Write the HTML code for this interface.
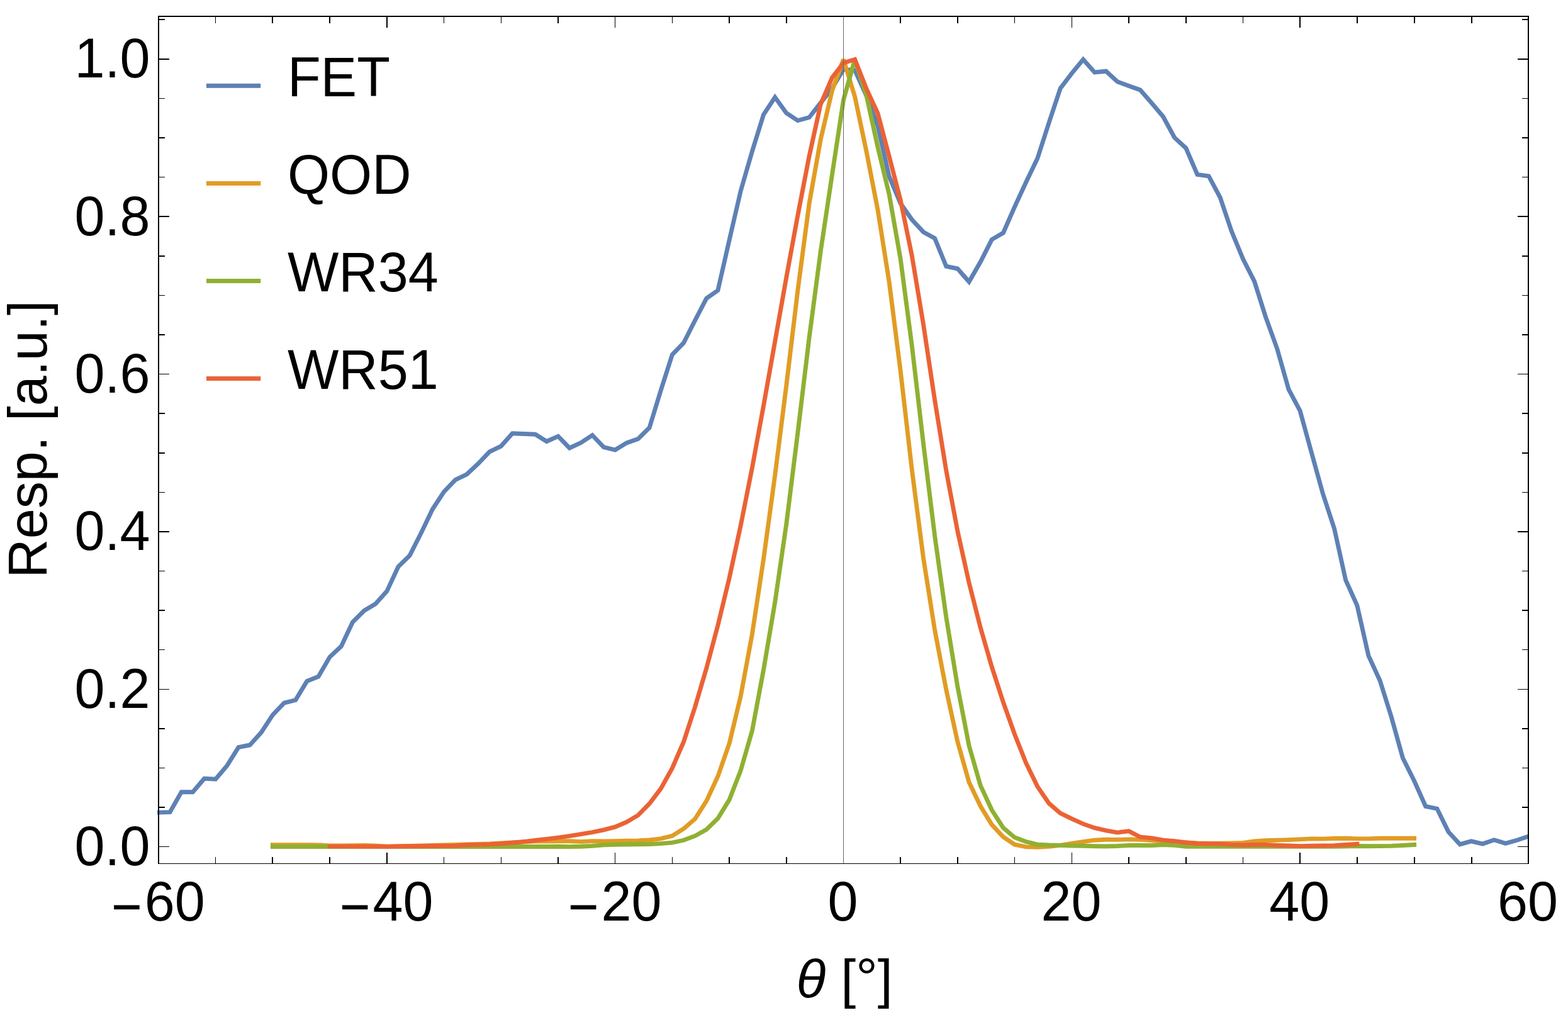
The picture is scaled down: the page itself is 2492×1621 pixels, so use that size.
<!DOCTYPE html>
<html lang="en"><head><meta charset="utf-8"><title>Resp. [a.u.] vs θ [°]</title>
<style>
html,body{margin:0;padding:0;background:#fff;}
body{width:2492px;height:1621px;overflow:hidden;}
svg{display:block;position:absolute;left:0;top:0;}
text{font-family:"Liberation Sans",Arial,Helvetica,sans-serif;font-size:86.3px;fill:#000;}
.c{fill:none;stroke-width:6.9;stroke-linejoin:miter;stroke-linecap:square;stroke-miterlimit:2.6;}
.k{fill:#000;shape-rendering:crispEdges;}
</style></head><body>
<svg width="2492" height="1621" viewBox="0 0 2492 1621">
<rect x="0" y="0" width="2492" height="1621" fill="#fff"/>
<defs><clipPath id="cp"><rect x="250" y="25" width="2180" height="1348"/></clipPath></defs>
<g clip-path="url(#cp)">
<polyline class="c" stroke="#5E81B5" points="252.0,1291.2 270.1,1290.7 288.3,1258.6 306.4,1258.8 324.6,1237.4 342.7,1238.3 360.9,1216.6 379.0,1187.6 397.1,1184.0 415.3,1163.9 433.4,1136.1 451.6,1117.2 469.7,1112.6 487.8,1082.6 506.0,1075.3 524.1,1044.1 542.3,1027.1 560.4,988.7 578.6,970.5 596.7,959.7 614.8,939.6 633.0,900.5 651.1,882.9 669.3,847.0 687.4,809.3 705.5,781.6 723.7,762.6 741.8,753.8 760.0,736.8 778.1,717.9 796.2,709.1 814.4,688.7 832.5,689.5 850.7,690.2 868.8,701.5 887.0,693.4 905.1,712.0 923.2,703.6 941.4,691.6 959.5,710.6 977.7,715.0 995.8,703.9 1014.0,697.6 1032.1,679.7 1050.2,620.5 1068.4,563.5 1086.5,545.0 1104.7,509.0 1122.8,474.2 1140.9,461.5 1159.1,381.5 1177.2,303.3 1195.4,240.5 1213.5,182.2 1231.7,154.6 1249.8,179.7 1267.9,191.6 1286.1,186.6 1304.2,163.5 1322.4,140.6 1340.5,110.3 1358.6,111.6 1376.8,151.9 1394.9,200.0 1413.1,280.4 1431.2,323.3 1449.3,349.1 1467.5,368.7 1485.6,378.7 1503.8,423.2 1521.9,427.0 1540.1,447.8 1558.2,416.3 1576.3,380.6 1594.5,370.0 1612.6,328.7 1630.8,289.2 1648.9,251.5 1667.0,195.3 1685.2,140.5 1703.3,116.6 1721.5,94.5 1739.6,115.0 1757.8,113.2 1775.9,129.8 1794.0,136.6 1812.2,143.0 1830.3,163.8 1848.5,185.3 1866.6,218.7 1884.8,235.4 1902.9,277.4 1921.0,279.9 1939.2,313.9 1957.3,367.5 1975.5,411.5 1993.6,447.1 2011.7,504.3 2029.9,554.7 2048.0,618.6 2066.2,653.0 2084.3,719.1 2102.4,784.6 2120.6,840.1 2138.7,922.0 2156.9,962.4 2175.0,1042.2 2193.2,1081.7 2211.3,1139.5 2229.4,1204.5 2247.6,1241.0 2265.7,1281.4 2283.9,1285.2 2302.0,1322.0 2320.2,1341.9 2338.3,1336.9 2356.4,1341.1 2374.6,1334.8 2392.7,1340.3 2410.9,1335.2 2429.0,1329.3"/>
<polyline class="c" stroke="#E19C24" points="433.4,1342.7 451.6,1342.7 469.7,1342.7 487.8,1342.7 506.0,1342.9 524.1,1343.9 542.3,1343.9 560.4,1343.7 578.6,1343.4 596.7,1343.9 614.8,1345.2 633.0,1345.0 651.1,1344.5 669.3,1344.0 687.4,1343.5 705.5,1343.0 723.7,1342.5 741.8,1342.0 760.0,1341.5 778.1,1341.0 796.2,1340.0 814.4,1339.0 832.5,1338.0 850.7,1337.1 868.8,1337.0 887.0,1336.8 905.1,1336.8 923.2,1337.6 941.4,1336.6 959.5,1337.0 977.7,1336.6 995.8,1336.3 1014.0,1335.9 1032.1,1335.0 1050.2,1332.8 1068.4,1328.4 1086.5,1317.0 1104.7,1301.3 1122.8,1272.9 1140.9,1233.8 1159.1,1181.5 1177.2,1106.1 1195.4,1007.8 1213.5,888.5 1231.7,755.4 1249.8,612.3 1267.9,461.2 1286.1,323.3 1304.2,221.8 1322.4,144.4 1340.5,94.3 1358.6,153.5 1376.8,239.8 1394.9,332.8 1413.1,447.7 1431.2,590.0 1449.3,746.6 1467.5,886.7 1485.6,1001.2 1503.8,1096.3 1521.9,1178.9 1540.1,1243.2 1558.2,1281.0 1576.3,1310.6 1594.5,1330.2 1612.6,1342.2 1630.8,1345.9 1648.9,1346.3 1667.0,1345.3 1685.2,1343.4 1703.3,1340.3 1721.5,1337.7 1739.6,1335.2 1757.8,1334.3 1775.9,1334.4 1794.0,1333.9 1812.2,1334.2 1830.3,1335.5 1848.5,1337.0 1866.6,1338.0 1884.8,1339.0 1902.9,1340.0 1921.0,1340.5 1939.2,1340.3 1957.3,1340.0 1975.5,1339.5 1993.6,1337.0 2011.7,1335.7 2029.9,1335.2 2048.0,1334.6 2066.2,1333.9 2084.3,1332.9 2102.4,1333.1 2120.6,1332.5 2138.7,1332.3 2156.9,1332.9 2175.0,1332.9 2193.2,1332.3 2211.3,1332.3 2229.4,1332.3 2247.6,1332.3"/>
<polyline class="c" stroke="#8FB032" points="433.4,1345.5 451.6,1345.5 469.7,1345.5 487.8,1345.5 506.0,1345.5 524.1,1345.5 542.3,1345.5 560.4,1345.5 578.6,1345.5 596.7,1345.5 614.8,1345.5 633.0,1345.5 651.1,1345.5 669.3,1345.5 687.4,1345.5 705.5,1345.5 723.7,1345.5 741.8,1345.5 760.0,1345.5 778.1,1345.5 796.2,1345.5 814.4,1345.5 832.5,1345.5 850.7,1345.5 868.8,1345.5 887.0,1345.3 905.1,1345.6 923.2,1345.3 941.4,1344.4 959.5,1342.9 977.7,1342.2 995.8,1342.0 1014.0,1341.8 1032.1,1341.6 1050.2,1340.6 1068.4,1339.1 1086.5,1335.3 1104.7,1328.4 1122.8,1318.3 1140.9,1300.6 1159.1,1271.0 1177.2,1224.4 1195.4,1161.3 1213.5,1064.5 1231.7,956.9 1249.8,832.4 1267.9,687.5 1286.1,536.4 1304.2,399.6 1322.4,278.1 1340.5,159.0 1358.6,94.5 1376.8,150.7 1394.9,233.3 1413.1,308.7 1431.2,411.7 1449.3,549.4 1467.5,704.8 1485.6,851.7 1503.8,981.1 1521.9,1091.3 1540.1,1185.2 1558.2,1248.2 1576.3,1287.3 1594.5,1315.7 1612.6,1330.8 1630.8,1337.7 1648.9,1342.2 1667.0,1343.0 1685.2,1343.4 1703.3,1344.0 1721.5,1344.3 1739.6,1344.7 1757.8,1345.0 1775.9,1344.5 1794.0,1343.5 1812.2,1343.5 1830.3,1343.5 1848.5,1342.5 1866.6,1343.4 1884.8,1345.3 1902.9,1345.3 1921.0,1345.3 1939.2,1345.3 1957.3,1345.3 1975.5,1345.3 1993.6,1345.3 2011.7,1345.3 2029.9,1345.3 2048.0,1345.3 2066.2,1345.3 2084.3,1345.3 2102.4,1345.3 2120.6,1345.3 2138.7,1345.1 2156.9,1344.5 2175.0,1344.7 2193.2,1344.6 2211.3,1344.4 2229.4,1343.5 2247.6,1342.4"/>
<polyline class="c" stroke="#EB6235" points="524.1,1345.1 542.3,1345.1 560.4,1345.2 578.6,1345.3 596.7,1345.4 614.8,1345.5 633.0,1345.0 651.1,1344.7 669.3,1344.7 687.4,1344.5 705.5,1344.4 723.7,1344.1 741.8,1342.7 760.0,1342.4 778.1,1341.9 796.2,1340.8 814.4,1339.3 832.5,1337.6 850.7,1335.5 868.8,1333.3 887.0,1331.1 905.1,1328.6 923.2,1325.7 941.4,1322.6 959.5,1318.8 977.7,1314.2 995.8,1306.4 1014.0,1295.6 1032.1,1277.3 1050.2,1253.4 1068.4,1220.6 1086.5,1179.0 1104.7,1123.3 1122.8,1061.7 1140.9,993.8 1159.1,918.5 1177.2,835.1 1195.4,743.3 1213.5,644.8 1231.7,542.6 1249.8,440.7 1267.9,342.1 1286.1,248.0 1304.2,165.8 1322.4,123.5 1340.5,99.9 1358.6,94.4 1376.8,140.6 1394.9,179.7 1413.1,248.5 1431.2,318.3 1449.3,406.3 1467.5,515.5 1485.6,635.7 1503.8,748.0 1521.9,844.3 1540.1,926.3 1558.2,997.3 1576.3,1059.9 1594.5,1116.2 1612.6,1167.0 1630.8,1212.9 1648.9,1250.1 1667.0,1276.6 1685.2,1292.4 1703.3,1301.2 1721.5,1309.4 1739.6,1315.7 1757.8,1319.9 1775.9,1323.1 1794.0,1320.9 1812.2,1330.2 1830.3,1331.9 1848.5,1335.2 1866.6,1336.7 1884.8,1339.0 1902.9,1340.5 1921.0,1340.8 1939.2,1341.1 1957.3,1342.4 1975.5,1343.0 1993.6,1342.4 2011.7,1342.4 2029.9,1343.4 2048.0,1343.9 2066.2,1344.6 2084.3,1344.3 2102.4,1344.0 2120.6,1343.6 2138.7,1342.5 2156.9,1341.4"/>
</g>
<rect x="1340" y="27" width="1" height="1345" fill="#666" shape-rendering="crispEdges"/>
<path class="k" d="M342,1362h1v11h-1zM342,26h1v11h-1zM432,1362h2v11h-2zM432,26h2v11h-2zM523,1362h2v11h-2zM523,26h2v11h-2zM614,1355h2v18h-2zM614,26h2v18h-2zM705,1362h1v11h-1zM705,26h1v11h-1zM796,1362h1v11h-1zM796,26h1v11h-1zM886,1362h2v11h-2zM886,26h2v11h-2zM977,1355h1v18h-1zM977,26h1v18h-1zM1068,1362h1v11h-1zM1068,26h1v11h-1zM1158,1362h2v11h-2zM1158,26h2v11h-2zM1249,1362h2v11h-2zM1249,26h2v11h-2zM1430,1362h2v11h-2zM1430,26h2v11h-2zM1521,1362h2v11h-2zM1521,26h2v11h-2zM1612,1362h1v11h-1zM1612,26h1v11h-1zM1703,1355h1v18h-1zM1703,26h1v18h-1zM1793,1362h2v11h-2zM1793,26h2v11h-2zM1884,1362h2v11h-2zM1884,26h2v11h-2zM1975,1362h1v11h-1zM1975,26h1v11h-1zM2065,1355h2v18h-2zM2065,26h2v18h-2zM2156,1362h2v11h-2zM2156,26h2v11h-2zM2247,1362h2v11h-2zM2247,26h2v11h-2zM2338,1362h2v11h-2zM2338,26h2v11h-2zM252,1345h17v1h-17zM2412,1345h17v1h-17zM252,1282h10v2h-10zM2419,1282h10v2h-10zM252,1220h10v1h-10zM2419,1220h10v1h-10zM252,1157h10v2h-10zM2419,1157h10v2h-10zM252,1095h17v1h-17zM2412,1095h17v1h-17zM252,1032h10v1h-10zM2419,1032h10v1h-10zM252,969h10v2h-10zM2419,969h10v2h-10zM252,907h10v1h-10zM2419,907h10v1h-10zM252,844h17v2h-17zM2412,844h17v2h-17zM252,782h10v1h-10zM2419,782h10v1h-10zM252,719h10v2h-10zM2419,719h10v2h-10zM252,656h10v2h-10zM2419,656h10v2h-10zM252,594h17v1h-17zM2412,594h17v1h-17zM252,531h10v2h-10zM2419,531h10v2h-10zM252,469h10v1h-10zM2419,469h10v1h-10zM252,406h10v2h-10zM2419,406h10v2h-10zM252,343h17v2h-17zM2412,343h17v2h-17zM252,281h10v1h-10zM2419,281h10v1h-10zM252,218h10v2h-10zM2419,218h10v2h-10zM252,156h10v1h-10zM2419,156h10v1h-10zM252,93h17v2h-17zM2412,93h17v2h-17zM252,30h10v2h-10zM2419,30h10v2h-10zM251,25h2v1348h-2zM2428,25h2v1348h-2zM251,25h2179v2h-2179zM251,1372h2179v1h-2179z"/>
<text transform="translate(238.4,1375.0) scale(1,1.03)" text-anchor="end">0.0</text>
<text transform="translate(238.4,1124.6) scale(1,1.03)" text-anchor="end">0.2</text>
<text transform="translate(238.4,874.2) scale(1,1.03)" text-anchor="end">0.4</text>
<text transform="translate(238.4,623.9) scale(1,1.03)" text-anchor="end">0.6</text>
<text transform="translate(238.4,373.5) scale(1,1.03)" text-anchor="end">0.8</text>
<text transform="translate(238.4,123.1) scale(1,1.03)" text-anchor="end">1.0</text>
<text transform="translate(252.0,1463.0) scale(1,1.03)" text-anchor="middle"><tspan x="-50.5" y="6.7" font-size="82px" stroke="#000" stroke-width="0.7">−</tspan><tspan x="25.8" y="0">60</tspan></text>
<text transform="translate(614.8,1463.0) scale(1,1.03)" text-anchor="middle"><tspan x="-50.5" y="6.7" font-size="82px" stroke="#000" stroke-width="0.7">−</tspan><tspan x="25.8" y="0">40</tspan></text>
<text transform="translate(977.7,1463.0) scale(1,1.03)" text-anchor="middle"><tspan x="-50.5" y="6.7" font-size="82px" stroke="#000" stroke-width="0.7">−</tspan><tspan x="25.8" y="0">20</tspan></text>
<text transform="translate(1339.6,1463.0) scale(1,1.03)" text-anchor="middle">0</text>
<text transform="translate(1702.4,1463.0) scale(1,1.03)" text-anchor="middle">20</text>
<text transform="translate(2065.3,1463.0) scale(1,1.03)" text-anchor="middle">40</text>
<text transform="translate(2428.1,1463.0) scale(1,1.03)" text-anchor="middle">60</text>
<text transform="translate(1342.1,1585) scale(1,0.985)" text-anchor="middle"><tspan font-style="italic">θ</tspan> [<tspan dy="-2">°</tspan><tspan dy="2">]</tspan></text>
<text transform="translate(74.2,698) rotate(-90)" text-anchor="middle">Resp. [a.u.]</text>
<rect x="328" y="132.8" width="86.2" height="7" fill="#5E81B5"/>
<text transform="translate(456.9,152.8) scale(1,1.03)" text-anchor="start">FET</text>
<rect x="328" y="287.9" width="86.2" height="7" fill="#E19C24"/>
<text transform="translate(456.9,307.9) scale(1,1.03)" text-anchor="start">QOD</text>
<rect x="328" y="443.0" width="86.2" height="7" fill="#8FB032"/>
<text transform="translate(456.9,463.0) scale(1,1.03)" text-anchor="start">WR34</text>
<rect x="328" y="598.1" width="86.2" height="7" fill="#EB6235"/>
<text transform="translate(456.9,618.1) scale(1,1.03)" text-anchor="start">WR51</text>
</svg>
</body></html>
